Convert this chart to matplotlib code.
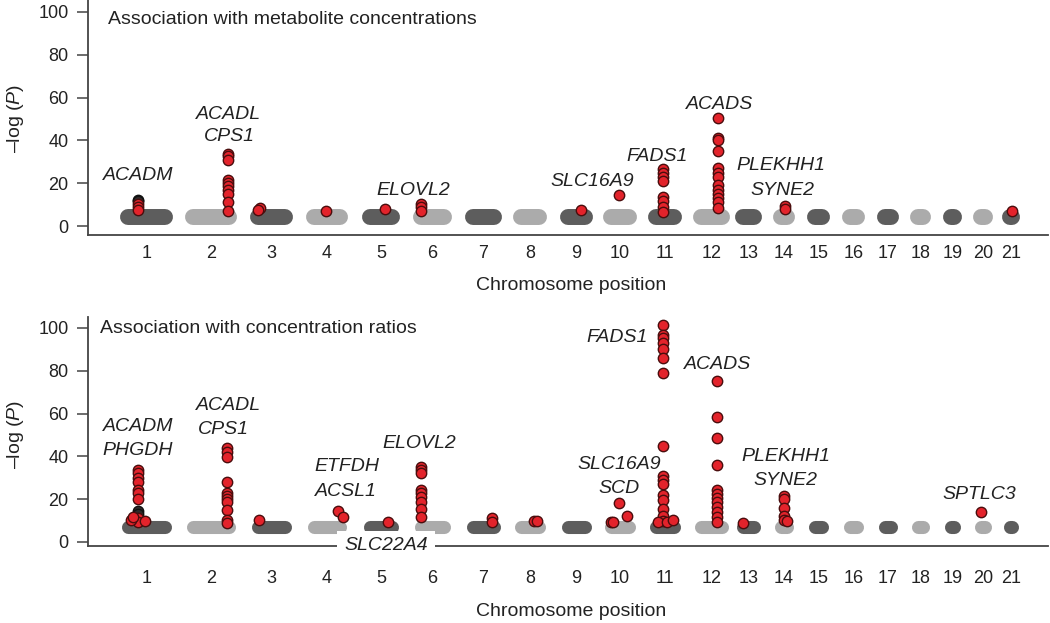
import matplotlib
matplotlib.use("Agg")
import matplotlib.pyplot as plt
import matplotlib.transforms as mtransforms

plt.rcParams['font.family'] = ['Liberation Sans', 'DejaVu Sans']
plt.rcParams['mathtext.fontset'] = 'custom'
plt.rcParams['mathtext.rm'] = 'Liberation Sans'
plt.rcParams['mathtext.it'] = 'Liberation Sans:italic'

# ---------------- data ----------------
chromosomes = list(range(1, 22))
# cumulative start / end of each chromosome along the x axis (arbitrary units)
chrom_start = [0, 65, 130, 186, 242, 293, 345, 393, 440, 483, 528, 573, 615, 653, 687, 722, 757, 790, 823, 853, 882]
chrom_end = [37, 101, 157, 212, 264, 316, 366, 411, 457, 501, 546, 594, 626, 659, 694, 729, 763, 795, 826, 857, 884]

# typical -log(P) of the non-significant SNP cloud
conc_background = 4.2
ratio_background = 7.2

# significant hits, metabolite concentrations: chromosome, position in chromosome, -log(P) values
conc_chrom = [1, 2, 3, 3, 4, 5, 6, 9, 10, 11, 12, 14, 21]
conc_pos = [10, 35, 2, 0, 12, 15, 0, 13, 8, 7, 17, 4, 2]
conc_logp = [
    [10.5, 9.0, 7.5],
    [33.5, 32.5, 31.0, 21.5, 20.0, 18.5, 17.0, 15.0, 11.0, 7.0],
    [8.5], [7.5],
    [7.0],
    [7.8],
    [10.5, 9.0, 7.0],
    [7.5],
    [14.5],
    [26.5, 25.0, 23.0, 21.0, 13.5, 11.5, 9.0, 6.7],
    [50.5, 41.0, 40.0, 35.0, 27.0, 25.0, 23.0, 19.0, 17.0, 15.0, 13.0, 11.0, 8.5],
    [9.5, 8.0],
    [7.2],
]
conc_dark_chrom = [1]
conc_dark_pos = [10]
conc_dark_logp = [[12.3, 11.5]]

# significant hits, concentration ratios
ratio_chrom = [1, 1, 1, 1, 2, 3, 4, 4, 5, 6, 7, 8, 8, 10, 10, 10, 10, 11, 11, 11, 11, 12, 13, 14, 14, 20]
ratio_pos = [10, 3, 5, 17, 34, 1, 24, 29, 18, 0, 19, 13, 16, 0, 2, 8, 16, 7, 2, 11, 17, 16, 0, 3, 6, 0]
ratio_logp = [
    [33.5, 32.0, 30.0, 28.0, 24.5, 23.0, 20.0, 11.0, 9.5],
    [10.3], [11.5], [10.0],
    [44.0, 42.0, 39.5, 28.0, 23.0, 21.5, 20.0, 18.5, 15.0, 10.5, 9.0],
    [10.3],
    [14.6], [11.8],
    [9.5],
    [35.0, 33.5, 32.0, 24.5, 23.0, 21.0, 18.5, 15.5, 11.5],
    [11.0, 9.5],
    [10.0], [10.0],
    [9.5], [9.5], [18.0], [12.0],
    [101.5, 96.5, 95.5, 93.0, 90.0, 86.0, 79.0, 45.0, 31.0, 29.0, 27.0, 22.0, 19.5, 15.5, 12.0, 10.0],
    [9.5], [9.5], [10.5],
    [75.0, 58.5, 48.5, 36.0, 24.5, 22.5, 20.5, 18.5, 16.5, 14.0, 11.5, 9.5],
    [9.0],
    [21.5, 20.0, 16.0, 12.0, 10.5], [10.0],
    [14.0],
]
ratio_dark_chrom = [1]
ratio_dark_pos = [10]
ratio_dark_logp = [[14.5, 13.0]]

# gene annotations: text, chromosome, position, -log(P) level
conc_gene = ['ACADM', 'ACADL', 'CPS1', 'ELOVL2', 'SLC16A9', 'FADS1', 'ACADS', 'PLEKHH1', 'SYNE2']
conc_gene_chrom = [1, 2, 2, 6, 10, 11, 12, 14, 14]
conc_gene_pos = [10, 36, 36.5, -8, -18.5, 1.5, 18.5, 0, 1]
conc_gene_y = [23.8, 51.9, 41.7, 16.8, 20.7, 32.4, 57.0, 28.5, 16.5]

ratio_gene = ['ACADM', 'PHGDH', 'ACADL', 'CPS1', 'ETFDH', 'ACSL1', 'ELOVL2', 'SLC16A9', 'SCD',
              'FADS1', 'ACADS', 'PLEKHH1', 'SYNE2', 'SPTLC3']
ratio_gene_chrom = [1, 1, 2, 2, 4, 4, 6, 10, 10, 11, 12, 14, 14, 20]
ratio_gene_pos = [10, 10, 36, 30, 32.7, 32, -2, 8.5, 8, -38.5, 17, 5, 4.5, -1.5]
ratio_gene_y = [53.9, 42.7, 63.6, 52.7, 35.2, 23.8, 45.8, 36.0, 25.1, 95.6, 82.7, 39.9, 28.5, 22.0]

# gene written on the x axis of the ratio panel
axis_gene = 'SLC22A4'
axis_gene_chrom = 5
axis_gene_pos = 16

y_ticks = [0, 20, 40, 60, 80, 100]

# ---------------- style ----------------
DARK = '#5d5d5d'
LIGHT = '#ababab'
RED = '#e3232b'
RED_EDGE = '#4a0d0d'
TEXT = '#222222'
SPINE = '#444444'

W, H = 1050, 623
fig = plt.figure(figsize=(W / 100, H / 100), dpi=100)
ax1 = fig.add_axes([88 / W, 1 - 235 / H, 960 / W, 235 / H])
ax2 = fig.add_axes([88 / W, 1 - 546 / H, 960 / W, (546 - 317) / H])


def xpos(c, p):
    return chrom_start[c - 1] + p


def draw_panel(ax, bg, band_pt, hc, hp, hv, dc, dp, dv, gtxt, gc, gp, gy,
               ylim, title, title_xy, xpad, xlabel_y, ylabel_y):
    # background SNP cloud per chromosome
    for i, (s, e) in enumerate(zip(chrom_start, chrom_end)):
        ax.plot([s, e], [bg, bg], lw=band_pt, solid_capstyle='round',
                color=DARK if i % 2 == 0 else LIGHT, zorder=1)
    # darker overlapping points
    for c, p, vals in zip(dc, dp, dv):
        ax.scatter([xpos(c, p)] * len(vals), vals, s=56, color='#2e2a2a',
                   edgecolors='#111111', linewidths=1.0, zorder=3)
    # significant hits
    for c, p, vals in zip(hc, hp, hv):
        ax.scatter([xpos(c, p)] * len(vals), vals, s=56, color=RED,
                   edgecolors=RED_EDGE, linewidths=1.0, zorder=4)
    # gene names
    for t, c, p, y in zip(gtxt, gc, gp, gy):
        ax.text(xpos(c, p), y, t, fontsize=14, style='italic', color=TEXT,
                ha='center', va='center', zorder=5)

    ax.set_xlim(-40, 920)
    ax.set_ylim(*ylim)
    ax.set_yticks(y_ticks)
    centers = [(s + e) / 2 for s, e in zip(chrom_start, chrom_end)]
    ax.set_xticks(centers)
    ax.set_xticklabels([str(c) for c in chromosomes])
    ax.tick_params(axis='x', length=0, pad=xpad, labelsize=13, labelcolor=TEXT)
    ax.tick_params(axis='y', length=8, width=1.1, pad=6, labelsize=13,
                   color=SPINE, labelcolor=TEXT)
    for side in ('top', 'right'):
        ax.spines[side].set_visible(False)
    for side in ('left', 'bottom'):
        ax.spines[side].set_linewidth(1.3)
        ax.spines[side].set_color(SPINE)

    ax.set_xlabel('Chromosome position', fontsize=14, color=TEXT, va='center')
    ax.xaxis.set_label_coords(0.503, xlabel_y)
    ax.set_ylabel('\u2013log ($\\mathit{P}$)', fontsize=14, color=TEXT, va='center')
    ax.yaxis.set_label_coords(-0.076, ylabel_y)
    ax.text(title_xy[0], title_xy[1], title, transform=ax.transAxes,
            fontsize=14, color=TEXT, ha='left', va='center')


draw_panel(ax1, conc_background, 11.5, conc_chrom, conc_pos, conc_logp,
           conc_dark_chrom, conc_dark_pos, conc_dark_logp,
           conc_gene, conc_gene_chrom, conc_gene_pos, conc_gene_y,
           (-4.2, 105.6), 'Association with metabolite concentrations',
           (0.021, 0.917), 7.0, -0.213, 0.494)

draw_panel(ax2, ratio_background, 9.4, ratio_chrom, ratio_pos, ratio_logp,
           ratio_dark_chrom, ratio_dark_pos, ratio_dark_logp,
           ratio_gene, ratio_gene_chrom, ratio_gene_pos, ratio_gene_y,
           (-1.87, 105.1), 'Association with concentration ratios',
           (0.012, 0.951), 17.0, -0.288, 0.485)

# gene label sitting on the x axis of the ratio panel
trans = mtransforms.blended_transform_factory(ax2.transData, ax2.transAxes)
ax2.text(xpos(axis_gene_chrom, axis_gene_pos), 0, axis_gene, transform=trans,
         fontsize=14, style='italic', color=TEXT, ha='center', va='center',
         zorder=6, clip_on=False,
         bbox=dict(boxstyle='square,pad=0.35', facecolor='white', edgecolor='none'))

fig.savefig('out.png', dpi=100)
